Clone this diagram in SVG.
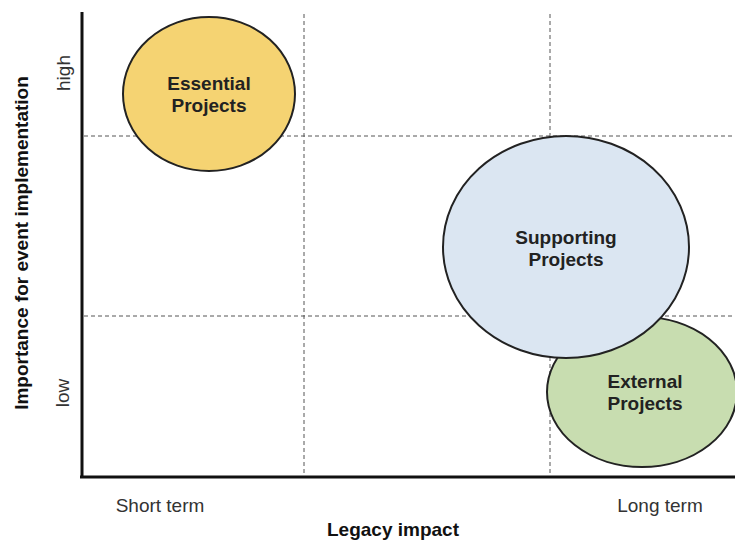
<svg xmlns="http://www.w3.org/2000/svg" width="735" height="541" viewBox="0 0 735 541">
<style>
.axis{stroke:#111;stroke-width:3;fill:none}
.grid{stroke:#555;stroke-width:1;stroke-dasharray:4 3;fill:none}
.node{stroke:#222;stroke-width:2}
.lbl{font-family:"Liberation Sans",Arial,sans-serif;font-weight:bold;font-size:19px;fill:#222;text-anchor:middle}
.tick{font-family:"Liberation Sans",Arial,sans-serif;font-size:19px;fill:#333;text-anchor:middle}
.title{font-family:"Liberation Sans",Arial,sans-serif;font-weight:bold;font-size:19px;fill:#111;text-anchor:middle}
</style>
<rect width="735" height="541" fill="#fff"/>
<g id="connectors">
<line class="grid" x1="304" y1="14" x2="304" y2="474"/>
<line class="grid" x1="550" y1="14" x2="550" y2="474"/>
<line class="grid" x1="84" y1="136" x2="735" y2="136"/>
<line class="grid" x1="84" y1="316" x2="735" y2="316"/>
<line class="axis" x1="82" y1="12" x2="82" y2="478"/>
<line class="axis" x1="80" y1="477" x2="735" y2="477"/>
</g>
<g id="essential">
<ellipse class="node" cx="209" cy="94" rx="86" ry="77" fill="#f5d372"/>
<text class="lbl" x="209" y="90">Essential</text>
<text class="lbl" x="209" y="112">Projects</text>
</g>
<g id="external">
<ellipse class="node" cx="642" cy="392" rx="95" ry="75" fill="#c8ddb0"/>
<text class="lbl" x="645" y="388">External</text>
<text class="lbl" x="645" y="410">Projects</text>
</g>
<g id="supporting">
<ellipse class="node" cx="566" cy="247" rx="123" ry="111" fill="#dbe6f2"/>
<text class="lbl" x="566" y="244">Supporting</text>
<text class="lbl" x="566" y="266">Projects</text>
</g>
<g id="labels">
<text class="title" transform="translate(28,243) rotate(-90)">Importance for event implementation</text>
<text class="tick" transform="translate(70,73) rotate(-90)">high</text>
<text class="tick" transform="translate(69,393) rotate(-90)">low</text>
<text class="tick" x="160" y="512">Short term</text>
<text class="tick" x="660" y="512">Long term</text>
<text class="title" x="393" y="536">Legacy impact</text>
</g>
</svg>
